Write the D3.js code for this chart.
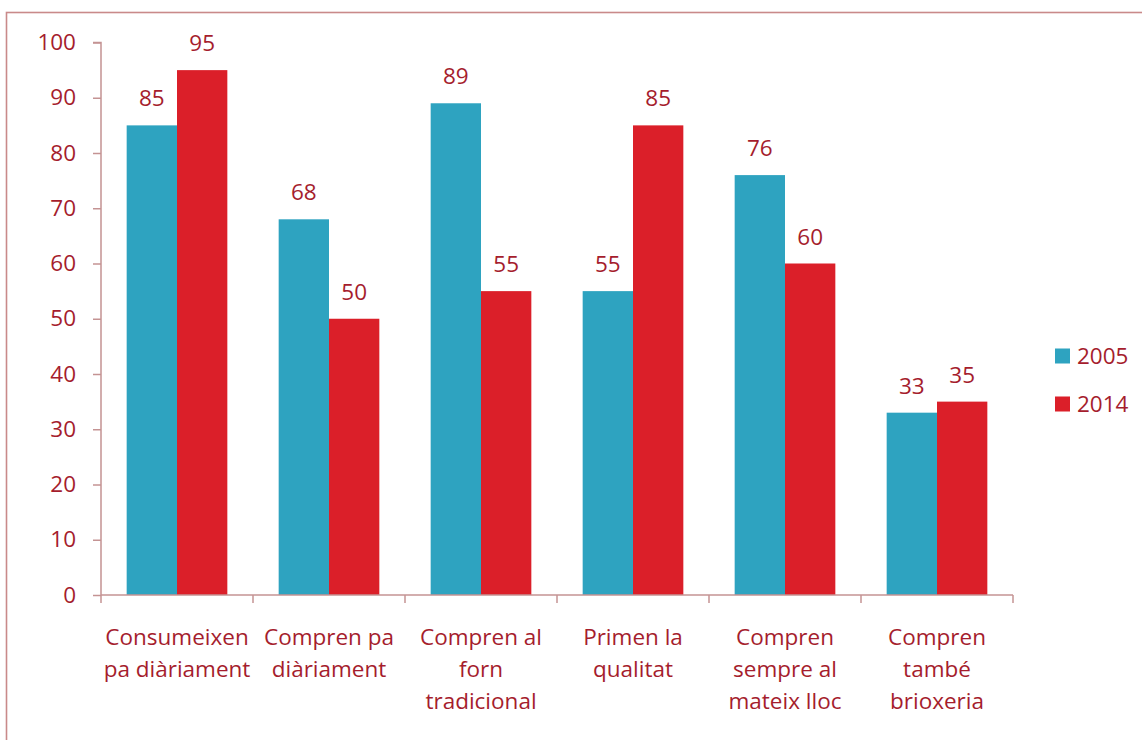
<!DOCTYPE html>
<html><head><meta charset="utf-8">
<script src="https://cdn.jsdelivr.net/npm/d3@7"></script>
<style>body{margin:0;background:#fff}svg{display:block}text{font-family:"Open Sans",sans-serif}</style>
</head><body>
<script>
const categories = [
  ["Consumeixen","pa diàriament"],
  ["Compren pa","diàriament"],
  ["Compren al","forn","tradicional"],
  ["Primen la","qualitat"],
  ["Compren","sempre al","mateix lloc"],
  ["Compren","també","brioxeria"]
];
const seriesNames = ["2005","2014"];
const values2005 = [85,68,89,55,76,33];
const values2014 = [95,50,55,85,60,35];
const yTicks = [0,10,20,30,40,50,60,70,80,90,100];

const W=1142,H=740, FS=22.5;
const textColor="#a51d2d", axisColor="#c49393";
const colors={"2005":"#2ea3c0","2014":"#db1f29"};
const svg=d3.select("body").append("svg").attr("width",W).attr("height",H);
svg.append("rect").attr("x",6.5).attr("y",12.5).attr("width",W+10).attr("height",H+10)
  .attr("fill","none").attr("stroke","#c98a8a").attr("stroke-width",1.6);

const ids=categories.map((c,i)=>i);
const x=d3.scaleBand().domain(ids).range([101,1013]).padding(0);
const xs=d3.scaleBand().domain(seriesNames).range([0,x.bandwidth()]).paddingOuter(0.51).paddingInner(0);
const y=d3.scaleLinear().domain([0,100]).range([595,42.5]);

// y axis
const ya=svg.append("g").attr("transform","translate(101,0)")
  .call(d3.axisLeft(y).tickValues(yTicks).tickSize(8).tickPadding(17));
ya.select(".domain").attr("stroke",axisColor).attr("stroke-width",1.5).attr("d","M-8,"+y(100)+"H0V"+y(0));
ya.selectAll(".tick line").attr("stroke",axisColor).attr("stroke-width",1.5);
ya.selectAll(".tick text").attr("fill",textColor).attr("font-size",FS).attr("font-family","Open Sans");

// bars
const data=ids.map(i=>({i,vals:[{s:"2005",v:values2005[i]},{s:"2014",v:values2014[i]}]}));
const g=svg.selectAll("g.cat").data(data).join("g").attr("transform",d=>`translate(${x(d.i)},0)`);
g.selectAll("rect").data(d=>d.vals).join("rect")
  .attr("x",d=>xs(d.s)).attr("width",xs.bandwidth())
  .attr("y",d=>y(d.v)).attr("height",d=>y(0)-y(d.v)).attr("fill",d=>colors[d.s]);
g.selectAll("text.v").data(d=>d.vals).join("text").attr("class","v")
  .attr("x",d=>xs(d.s)+xs.bandwidth()/2).attr("y",d=>y(d.v)-19)
  .attr("text-anchor","middle").attr("fill",textColor).attr("font-size",FS).text(d=>d.v);

// x axis
const xa=svg.append("g").attr("transform",`translate(0,${y(0)})`);
xa.append("line").attr("x1",101).attr("x2",1013).attr("stroke",axisColor).attr("stroke-width",1.5);
const bounds=[...ids.map(i=>x(i)),x(ids[ids.length-1])+x.bandwidth()];
xa.selectAll("line.t").data(bounds).join("line").attr("class","t")
  .attr("x1",d=>d).attr("x2",d=>d).attr("y1",0).attr("y2",8).attr("stroke",axisColor).attr("stroke-width",1.5);
xa.selectAll("text.c").data(ids).join("text").attr("class","c")
  .attr("x",i=>x(i)+x.bandwidth()/2).attr("text-anchor","middle").attr("fill",textColor).attr("font-size",FS)
  .each(function(i){
    d3.select(this).selectAll("tspan").data(categories[i]).join("tspan")
      .attr("x",x(i)+x.bandwidth()/2).attr("y",(d,k)=>50+k*32).text(d=>d);
  });

// legend
const lg=svg.selectAll("g.lg").data(seriesNames).join("g").attr("class","lg")
  .attr("transform",(d,k)=>`translate(1055,${356+k*48})`);
lg.append("rect").attr("x",0).attr("y",-7.5).attr("width",15).attr("height",15).attr("fill",d=>colors[d]);
lg.append("text").attr("x",22).attr("y",8).attr("fill",textColor).attr("font-size",FS).text(d=>d);
</script>
</body></html>
